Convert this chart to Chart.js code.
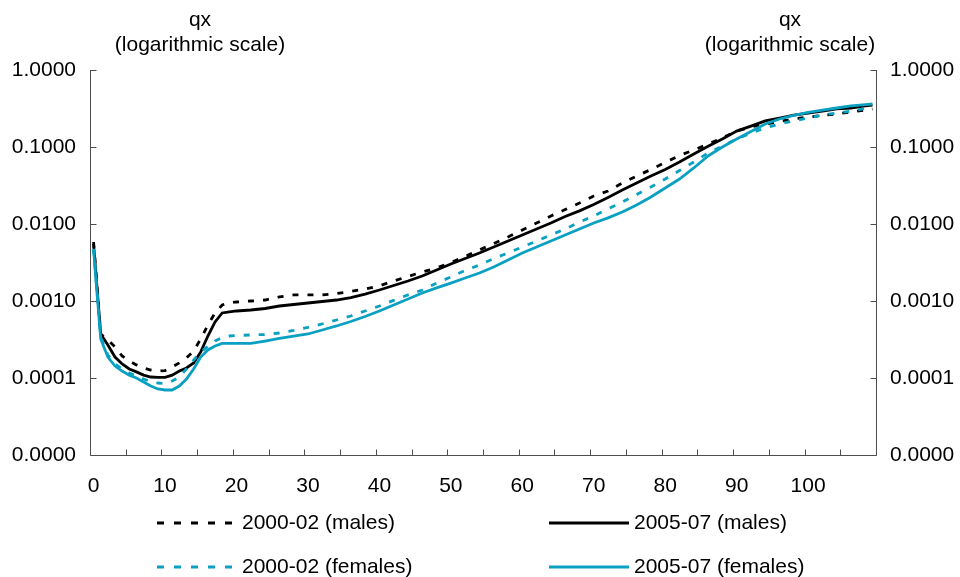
<!DOCTYPE html>
<html>
<head>
<meta charset="utf-8">
<script src="https://cdn.jsdelivr.net/npm/chart.js@4/dist/chart.umd.min.js"></script>
<style>
  html, body { margin: 0; padding: 0; background: #fff; }
  #wrap { width: 960px; height: 577px; }
</style>
</head>
<body>
<div id="wrap"><canvas id="qxChart" width="960" height="577"></canvas></div>
<script>
// Ages (x categories) - yearly to 20, then every 2 years
const ages = [0, 1, 2, 3, 4, 5, 6, 7, 8, 9, 10, 11, 12, 13, 14, 15, 16, 17, 18, 19, 20,
  22, 24, 26, 28, 30, 32, 34, 36, 38, 40, 42, 44, 46, 48, 50, 52, 54, 56, 58, 60,
  62, 64, 66, 68, 70, 72, 74, 76, 78, 80, 82, 84, 86, 88, 90, 92, 94, 96, 98, 100,
  102, 104, 106, 108, 109];

// qx values
const males0002 = [0.00584, 0.000373, 0.000312, 0.000253, 0.000193, 0.000166, 0.000148, 0.000135, 0.000127, 0.000123, 0.000125,
  0.000139, 0.000157, 0.000182, 0.000224, 0.000321, 0.000488, 0.000699, 0.000887, 0.000942, 0.000971,
  0.00100, 0.00103, 0.00113, 0.00120, 0.00120, 0.00120, 0.00125, 0.00133, 0.00143, 0.00157,
  0.00182, 0.00208, 0.00238, 0.00268, 0.00316, 0.00378, 0.00460, 0.00558, 0.00678, 0.00836,
  0.0103, 0.0127, 0.0154, 0.0187, 0.0231, 0.0268, 0.0341, 0.0420, 0.0510, 0.0629,
  0.0776, 0.0914, 0.109, 0.131, 0.161, 0.182, 0.199, 0.214, 0.231, 0.245,
  0.257, 0.268, 0.285, 0.302, 0.312];

const males0507 = [0.00550, 0.000373, 0.000268, 0.000187, 0.000152, 0.000131, 0.000120, 0.000109, 0.000103, 0.000102, 0.000102,
  0.000109, 0.000123, 0.000135, 0.000157, 0.000218, 0.000351, 0.000534, 0.000699, 0.000720, 0.000742,
  0.000764, 0.000799, 0.000861, 0.000901, 0.000942, 0.000985, 0.00103, 0.00111, 0.00123, 0.00139,
  0.00159, 0.00182, 0.00211, 0.00253, 0.00302, 0.00356, 0.00420, 0.00503, 0.00602, 0.00720,
  0.00861, 0.0103, 0.0125, 0.0148, 0.0179, 0.0221, 0.0276, 0.0341, 0.0420, 0.0510,
  0.0639, 0.0811, 0.102, 0.127, 0.161, 0.187, 0.218, 0.238, 0.260, 0.276,
  0.293, 0.312, 0.321, 0.341, 0.351];

const females0002 = [0.00474, 0.000341, 0.000199, 0.000152, 0.000131, 0.000116, 0.000106, 0.0000971, 0.0000900, 0.0000861, 0.0000849,
  0.0000914, 0.000103, 0.000131, 0.000171, 0.000218, 0.000257, 0.000302, 0.000336, 0.000351, 0.000356,
  0.000362, 0.000367, 0.000384, 0.000414, 0.000453, 0.000503, 0.000567, 0.000639, 0.000742, 0.000861,
  0.00102, 0.00120, 0.00139, 0.00171, 0.00205, 0.00249, 0.00293, 0.00356, 0.00420, 0.00503,
  0.00602, 0.00720, 0.00861, 0.0106, 0.0127, 0.0157, 0.0193, 0.0242, 0.0302, 0.0384,
  0.0495, 0.0639, 0.0836, 0.103, 0.127, 0.152, 0.177, 0.199, 0.218, 0.238,
  0.260, 0.276, 0.293, 0.316, 0.321];

const females0507 = [0.00460, 0.000321, 0.000187, 0.000143, 0.000123, 0.000109, 0.000100, 0.0000887, 0.0000787, 0.0000720, 0.0000699,
  0.0000699, 0.0000787, 0.0000971, 0.000131, 0.000187, 0.000231, 0.000260, 0.000281, 0.000281, 0.000281,
  0.000281, 0.000302, 0.000326, 0.000351, 0.000373, 0.000420, 0.000474, 0.000542, 0.000629, 0.000742,
  0.000887, 0.00106, 0.00127, 0.00148, 0.00171, 0.00199, 0.00231, 0.00276, 0.00341, 0.00420,
  0.00503, 0.00602, 0.00720, 0.00861, 0.0103, 0.0120, 0.0143, 0.0177, 0.0224, 0.0293,
  0.0384, 0.0534, 0.0764, 0.100, 0.127, 0.159, 0.199, 0.231, 0.257, 0.281,
  0.302, 0.321, 0.341, 0.356, 0.362];

const seriesNames = ['2000-02 (males)', '2005-07 (males)', '2000-02 (females)', '2005-07 (females)'];
const xTickLabels = [0, 10, 20, 30, 40, 50, 60, 70, 80, 90, 100];
const xTickMarks = [4.5, 9.5, 14.5, 19.5, 24.5, 29.5, 34.5, 39.5, 44.5, 49.5, 54.5, 59.5, 64.5, 69.5, 74.5, 79.5, 84.5, 89.5, 94.5, 99.5, 104.5];
const yTickValues = [0.00001, 0.0001, 0.001, 0.01, 0.1, 1];
const axisTitle = ['qx', '(logarithmic scale)'];

const BLACK = '#000000';
const CYAN = '#0aa0c2';
const AXIS = '#4d4d4d';
const FAMILY = '"Liberation Sans", Arial, sans-serif';
const FONT = '21px ' + FAMILY;

function toPoints(values) {
    return ages.map((a, i) => ({ x: a, y: values[i] }));
}

const datasets = [
    { label: seriesNames[0], data: toPoints(males0002), borderColor: BLACK, borderWidth: 2.8, borderDash: [6, 9], order: 3 },
    { label: seriesNames[1], data: toPoints(males0507), borderColor: BLACK, borderWidth: 2.8, order: 2 },
    { label: seriesNames[2], data: toPoints(females0002), borderColor: CYAN, borderWidth: 2.8, borderDash: [6, 9], order: 1 },
    { label: seriesNames[3], data: toPoints(females0507), borderColor: CYAN, borderWidth: 2.8, order: 0 }
];

// Axis lines, inward tick marks, axis titles and legend
const decorPlugin = {
    id: 'decor',
    afterDraw(chart) {
        const ctx = chart.ctx;
        const area = chart.chartArea;
        const xs = chart.scales.x;
        const ys = chart.scales.y;
        const L = Math.round(area.left) + 0.5;
        const R = Math.round(area.right) + 0.5;
        const B = Math.round(area.bottom) + 0.5;

        ctx.save();
        ctx.strokeStyle = AXIS;
        ctx.lineWidth = 1;
        ctx.setLineDash([]);
        ctx.beginPath();
        ctx.moveTo(L, area.top);
        ctx.lineTo(L, B);
        ctx.lineTo(R, B);
        ctx.lineTo(R, area.top);
        yTickValues.forEach(v => {
            const py = Math.round(ys.getPixelForValue(v)) + 0.5;
            ctx.moveTo(L, py); ctx.lineTo(L + 6, py);
            ctx.moveTo(R, py); ctx.lineTo(R - 6, py);
        });
        xTickMarks.forEach(v => {
            const px = Math.round(xs.getPixelForValue(v)) + 0.5;
            ctx.moveTo(px, B); ctx.lineTo(px, B - 6);
        });
        ctx.stroke();

        // axis titles
        ctx.fillStyle = '#000';
        ctx.font = FONT;
        ctx.textAlign = 'center';
        ctx.textBaseline = 'middle';
        [200, 790].forEach(cx => {
            ctx.fillText(axisTitle[0], cx, 20);
            ctx.fillText(axisTitle[1], cx, 45);
        });

        // legend, two columns
        const cols = [157, 549];
        const rows = [523, 567];
        chart.data.datasets.forEach((ds, i) => {
            const x0 = cols[i % 2];
            const y0 = rows[Math.floor(i / 2)];
            ctx.strokeStyle = ds.borderColor;
            ctx.lineWidth = ds.borderWidth;
            ctx.setLineDash(ds.borderDash ? [7, 10] : []);
            ctx.beginPath();
            ctx.moveTo(x0, y0);
            ctx.lineTo(x0 + 80, y0);
            ctx.stroke();
            ctx.setLineDash([]);
            ctx.textAlign = 'left';
            ctx.fillText(ds.label, x0 + 85, y0);
        });
        ctx.restore();
    }
};

const yScaleBase = {
    type: 'logarithmic',
    min: 0.00001,
    max: 1,
    afterBuildTicks: scale => { scale.ticks = yTickValues.map(v => ({ value: v })); },
    ticks: {
        callback: v => Number(v).toFixed(4),
        color: '#000',
        font: { family: FAMILY, size: 21 },
        padding: 14
    },
    grid: { display: false, drawTicks: false },
    border: { display: false }
};

new Chart(document.getElementById('qxChart').getContext('2d'), {
    type: 'line',
    data: { datasets: datasets },
    options: {
        responsive: false,
        animation: false,
        layout: { padding: { top: 70, left: 0, right: 0, bottom: 0 } },
        elements: { point: { radius: 0 }, line: { tension: 0, fill: false } },
        plugins: { legend: { display: false }, tooltip: { enabled: false } },
        scales: {
            x: {
                type: 'linear',
                min: -0.5,
                max: 109.5,
                afterBuildTicks: scale => { scale.ticks = xTickLabels.map(v => ({ value: v })); },
                afterFit: scale => { scale.height = 122; },
                ticks: {
                    color: '#000',
                    font: { family: FAMILY, size: 21 },
                    padding: 19,
                    maxRotation: 0,
                    autoSkip: false
                },
                grid: { display: false, drawTicks: false },
                border: { display: false }
            },
            y: Object.assign({}, yScaleBase, { position: 'left', afterFit: scale => { scale.width = 90; } }),
            y2: Object.assign({}, yScaleBase, { position: 'right', afterFit: scale => { scale.width = 84; } })
        }
    },
    plugins: [decorPlugin]
});
</script>
</body>
</html>
